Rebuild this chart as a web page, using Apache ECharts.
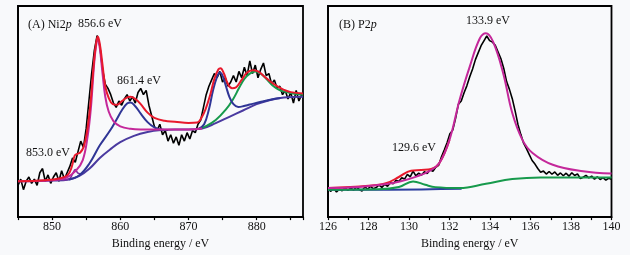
<!DOCTYPE html>
<html>
<head>
<meta charset="utf-8">
<script src="https://cdn.jsdelivr.net/npm/echarts@6/dist/echarts.min.js"></script>
<style>
  html, body { margin: 0; padding: 0; background: #f8f9fb; }
  #chart { width: 630px; height: 255px; }
</style>
</head>
<body>
<div id="chart"></div>
<script>
// ---- (A) Ni2p ----
// measured counts, 845.0 eV onwards in 0.4 eV steps
const niStart = 845
const niStep = 0.4
const niCounts = [
  15, 18, 13, 17, 19, 16, 18, 15, 21, 23,
  17, 20, 16, 19, 21, 17, 22, 18, 21, 24,
  28, 26, 31, 36, 33, 42, 55, 68, 79, 86,
  81, 70, 63, 61, 58, 54, 52, 55, 53, 56,
  58, 55, 57, 54, 59, 61, 58, 60, 53, 48,
  43, 41, 44, 39, 41, 36, 39, 35, 38, 34,
  39, 36, 40, 37, 41, 40, 44, 46, 52, 58,
  62, 65, 68, 66, 69, 64, 66, 62, 64, 67,
  64, 69, 66, 71, 67, 74, 68, 72, 66, 70,
  73, 67, 68, 63, 65, 61, 62, 58, 60, 56,
  59, 54, 60, 55, 58
]
const niEnvelope = [[845, 17], [849, 17.5], [851, 18.3], [852.3, 20], [852.9, 24], [853.3, 29], [853.7, 30],
  [854.1, 30.5], [854.6, 33], [855.1, 40], [855.6, 53], [856.1, 72], [856.4, 81], [856.7, 85.5], [857.0, 82],
  [857.4, 72], [857.8, 62], [858.3, 56.5], [858.9, 53.5], [859.5, 53.2], [860.2, 54.8], [860.9, 56.5],
  [861.5, 57], [862.2, 56], [863, 53.5], [864, 49.5], [865, 47], [866.5, 45.6], [868, 45.2], [870, 44.6],
  [871.3, 44.8], [871.9, 47], [872.5, 51], [873.2, 58], [873.8, 65.5], [874.4, 70], [874.7, 70.5],
  [875.2, 68], [875.8, 63], [876.4, 61], [877, 61.5], [877.8, 65], [878.6, 68.5], [879.4, 69.6],
  [880.2, 69], [881, 67], [882, 64.2], [883, 62], [884, 60.3], [885, 59.2], [886.8, 58.5]]
const niMain = [[845, 17], [850, 17.5], [852, 18.5], [853.5, 22], [854.5, 27], [855.2, 38], [855.7, 52],
  [856.1, 70], [856.4, 80], [856.7, 84.5], [857.0, 80], [857.4, 68], [857.8, 57], [858.3, 50], [859, 45.5],
  [860, 43], [861.5, 41.8], [863, 41.5], [866, 41.5], [870, 41.5], [872, 42]]
const niSatellite = [[852.5, 17.8], [854, 19.8], [855.5, 25.5], [857, 34], [858.5, 41], [859.5, 46.5],
  [860.3, 51], [861, 53.8], [861.5, 54.3], [862.2, 52.5], [863, 49], [864, 45], [865, 42.5], [866, 41.5],
  [867, 41.3]]
const niSmall = [[851.5, 17.5], [852.6, 18.3], [853.0, 20.5], [853.4, 22.5], [853.8, 20.8], [854.3, 20.3]]
const niPeak2 = [[871.5, 41.8], [872.3, 44], [873, 51], [873.6, 60], [874.2, 66.5], [874.6, 68.5],
  [875, 67], [875.5, 62], [876, 57], [876.6, 53.5], [877.3, 52.2], [878, 52.5], [879, 53.3],
  [880.5, 54.5], [882, 55.6], [883.5, 56.4]]
const niPeak3 = [[871.5, 41.8], [872.5, 43], [874, 46], [875.5, 51], [876.5, 55.6], [877.4, 61],
  [878.2, 65.5], [879, 68], [879.8, 69], [880.6, 68], [881.4, 65.5], [882.3, 62.5], [883.3, 60.3],
  [884.3, 59.3], [885.3, 58.5], [886.8, 58]]
const niBackground = [[845, 17], [850, 17.3], [852.5, 17.8], [854, 19.5], [855.5, 23], [857, 28],
  [858.5, 32], [860, 35.5], [862, 38.5], [864, 40.3], [866, 41.2], [868, 41.5], [870, 41.5], [872, 42],
  [874, 44.5], [876, 47.5], [878, 50.5], [880, 53.5], [882, 55.5], [884, 56.6], [886.8, 57]]

// ---- (B) P2p ----
const pStart = 126
const pStep = 0.14
const pCounts = [
  13.5, 12.2, 13.8, 11.9, 13.2, 12.5, 14.0, 12.6, 13.9, 12.8,
  14.2, 13.1, 12.4, 14.3, 13.2, 14.6, 13.4, 14.0, 15.2, 14.1,
  15.5, 14.6, 16.3, 15.8, 17.4, 16.9, 18.6, 18.0, 20.2, 19.1,
  21.8, 19.5, 20.8, 19.9, 21.5, 20.6, 22.4, 21.7, 23.6, 24.5,
  28.5, 31.8, 35.2, 39.5, 41.2, 46.8, 53.5, 55.0, 58.9, 62.3,
  66.5, 70.2, 74.6, 77.9, 81.2, 83.5, 85.8, 83.6, 82.9, 81.4,
  78.2, 75.0, 70.4, 64.2, 60.5, 56.1, 50.3, 43.9, 39.2, 35.0,
  32.4, 29.6, 26.8, 25.1, 23.0, 21.2, 21.8, 20.4, 21.6, 20.3,
  21.4, 19.8, 20.9, 19.6, 20.8, 19.4, 21.0, 19.7, 20.5, 18.3,
  18.9, 19.8, 18.6, 19.4, 18.0, 19.1, 17.8, 18.7, 17.5, 18.4,
  17.9
]
const pMain = [[126, 13.8], [127.5, 14.3], [128.7, 15.4], [129.6, 17], [130.4, 19.3], [131, 21.8],
  [131.5, 25.6], [132, 36.6], [132.5, 55.6], [133, 71.3], [133.5, 84.7], [133.8, 87.1], [134.15, 83.1],
  [134.65, 68.2], [135.1, 49.3], [135.6, 36.6], [136.1, 30.4], [137.1, 24.8], [138.6, 21.7], [140, 20.6]]
const pEnvelope = [[126, 13.8], [128, 14.8], [128.9, 16.2], [129.5, 19], [130.1, 22], [130.6, 22.3],
  [131.1, 22.8], [131.5, 25.6], [132, 36.6]]
const pMinor = [[126, 13], [128.5, 13.2], [129.5, 14.3], [130.2, 16.9], [130.8, 15.3], [131.3, 14.2],
  [132.5, 13.8], [133.8, 15.8], [135.1, 18], [136.5, 18.8], [140, 18.8]]
const pBackground = [[126, 13], [129, 13], [132.6, 13.4]]

const toPoints = (start, step, values) => values.map((v, i) => [+(start + i * step).toFixed(2), v])

const serif = 'Liberation Serif'
const ink = '#111'

function line (axis, data, color, width, smooth) {
  return {
    type: 'line',
    xAxisIndex: axis,
    yAxisIndex: axis,
    data: data,
    smooth: smooth,
    symbol: 'none',
    lineStyle: { color: color, width: width },
    silent: true
  }
}

function xAxis (grid, min, max, interval, labelStep) {
  return {
    type: 'value',
    gridIndex: grid,
    min: min,
    max: max,
    interval: interval,
    name: 'Binding energy / eV',
    nameLocation: 'middle',
    nameGap: 18,
    nameTextStyle: { fontFamily: serif, fontSize: 12, color: ink },
    axisLine: { lineStyle: { color: '#000', width: 1.8 } },
    axisTick: { length: 3, lineStyle: { color: '#000', width: 1.2 } },
    axisLabel: {
      margin: 4,
      fontFamily: serif,
      fontSize: 12,
      color: ink,
      formatter: v => (Math.abs(v % labelStep) < 1e-6 ? String(v) : '')
    },
    splitLine: { show: false }
  }
}

function yAxis (grid) {
  return {
    type: 'value',
    gridIndex: grid,
    min: 0,
    max: 100,
    axisLine: { show: true, lineStyle: { color: '#000', width: 1.8 } },
    axisTick: { show: false },
    axisLabel: { show: false },
    splitLine: { show: false }
  }
}

const label = (x, y, text) => ({
  type: 'text',
  left: x,
  top: y,
  style: {
    text: text,
    fontFamily: serif,
    fontSize: 12,
    fill: ink,
    rich: { i: { fontFamily: serif, fontSize: 12, fontStyle: 'italic', fill: ink } }
  }
})

const chart = echarts.init(document.getElementById('chart'))
chart.setOption({
  animation: false,
  backgroundColor: '#f8f9fb',
  grid: [
    { left: 18, top: 6, width: 285, height: 211.5, show: true, borderColor: '#000', borderWidth: 1.8, backgroundColor: 'transparent' },
    { left: 328, top: 6, width: 283.5, height: 211.5, show: true, borderColor: '#000', borderWidth: 1.8, backgroundColor: 'transparent' }
  ],
  xAxis: [xAxis(0, 845, 886.8, 5, 10), xAxis(1, 126, 140, 1, 2)],
  yAxis: [yAxis(0), yAxis(1)],
  series: [
    line(0, toPoints(niStart, niStep, niCounts), '#000', 1.6, false),
    line(0, niBackground, '#4a3aa0', 2, 0.4),
    line(0, niSmall, '#7a2fa0', 1.6, 0.4),
    line(0, niSatellite, '#2f3596', 2, 0.4),
    line(0, niPeak3, '#179a4c', 2, 0.4),
    line(0, niPeak2, '#2f3596', 2, 0.4),
    line(0, niMain, '#c4289a', 2, 0.4),
    line(0, niEnvelope, '#e8192c', 2, 0.4),

    line(1, toPoints(pStart, pStep, pCounts), '#000', 1.6, false),
    line(1, pBackground, '#2b3d9e', 2, 0.4),
    line(1, pMinor, '#179a4c', 2, 0.4),
    line(1, pEnvelope, '#e8192c', 2, 0.4),
    line(1, pMain, '#c4289a', 2, 0.4)
  ],
  graphic: [
    label(28, 19, '(A) Ni2{i|p}'),
    label(78, 18, '856.6 eV'),
    label(117, 75, '861.4 eV'),
    label(26, 147, '853.0 eV'),
    label(339, 19, '(B) P2{i|p}'),
    label(466, 15, '133.9 eV'),
    label(392, 142, '129.6 eV')
  ]
})
</script>
</body>
</html>
